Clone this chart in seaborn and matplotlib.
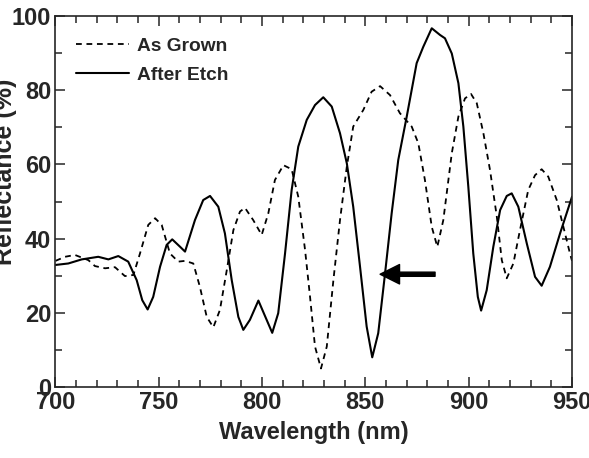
import numpy as np
import pandas as pd
import matplotlib
matplotlib.use("Agg")
import matplotlib.pyplot as plt
import seaborn as sns
from matplotlib.ticker import MultipleLocator

# As Grown (dashed)
grown_wl = [700, 704.6, 709.4, 715.9, 719.1, 724, 728.8, 733.6, 737.7, 740.9, 744.9,
            748.2, 751.4, 755.4, 759.4, 762.7, 766.7, 769.9, 773.2, 776.4, 779.6,
            782.9, 786.1, 789.3, 791.7, 795.7, 799.8, 803, 806.2, 810.3, 814.3,
            817.5, 820.8, 823.2, 825.6, 828.5, 831.3, 834.5, 837.7, 841, 844.1,
            849, 853, 857.1, 861.9, 866.7, 872.4, 875.6, 878.8, 882.1, 884.8,
            887.7, 891.8, 895, 898.2, 901.1, 903.9, 907.1, 910.3, 913.6, 916,
            918.4, 921.6, 924.8, 928.8, 932.1, 935.3, 938.5, 942.6, 945.8, 949, 950]
grown_r = [34.0, 35.1, 35.6, 34.2, 32.6, 32.0, 32.3, 29.9, 30.2, 36.0, 43.7,
           45.5, 43.7, 36.0, 33.8, 34.0, 33.3, 27.0, 18.9, 16.1, 20.8,
           31.5, 42.3, 47.3, 48.3, 45.0, 41.0, 46.8, 55.8, 59.8, 58.7,
           51.3, 36.9, 24.3, 10.9, 5.0, 10.9, 28.8, 45.0, 59.4, 70.2,
           74.7, 79.6, 81.1, 78.7, 73.8, 70.2, 65.7, 55.8, 43.2, 37.8,
           45.0, 63.0, 72.9, 77.8, 79.0, 76.5, 68.4, 58.5, 45.9, 34.2,
           29.3, 33.3, 42.3, 53.1, 57.1, 58.7, 56.7, 50.4, 43.2, 36.0, 34.0]

# After Etch (solid)
etch_wl = [700, 706.2, 712.7, 720.7, 725.6, 730.4, 735.2, 739.3, 742, 744.6, 747.3,
           750.6, 753.8, 756.5, 760.3, 762.7, 767.5, 771.5, 774.8, 778.8, 782,
           785.3, 788.5, 790.9, 794.1, 798.2, 802.2, 804.9, 807.8, 811.1, 814.3,
           817.5, 821.6, 825.6, 829.6, 833.7, 837.7, 841, 844.1, 847.4, 850.6,
           853.3, 856.2, 859.5, 862.7, 865.9, 870, 874.8, 878, 882.1, 886.1,
           888.5, 891.8, 895, 897.4, 899.8, 902.2, 904.4, 906, 908.7, 911.9,
           915.2, 918.4, 920.8, 924, 928.1, 932.1, 935.3, 939.3, 944.2, 950]
etch_r = [32.9, 33.3, 34.4, 35.1, 34.4, 35.3, 33.8, 28.8, 23.4, 20.9, 24.3,
          32.4, 38.3, 39.8, 37.8, 36.5, 45.0, 50.4, 51.5, 48.6, 41.4,
          28.8, 18.9, 15.4, 18.1, 23.3, 18.1, 14.6, 19.9, 36.0, 53.1,
          64.8, 72.0, 76.0, 78.1, 75.6, 68.4, 60.3, 48.6, 32.4, 16.3,
          8.0, 14.5, 30.6, 46.8, 61.2, 72.9, 87.3, 91.7, 96.7, 94.9,
          94.0, 89.9, 81.9, 70.2, 54.0, 36.0, 24.3, 20.6, 26.1, 37.8,
          47.7, 51.5, 52.2, 48.6, 38.7, 29.7, 27.3, 32.4, 41.4, 51.3]

arrow_tip = (857.1, 30.4)
arrow_tail = (883.7, 30.4)

sns.set_style("ticks")
plt.rcParams['font.family'] = ['Liberation Sans', 'DejaVu Sans']
plt.rcParams['font.weight'] = 'bold'
plt.rcParams['axes.labelweight'] = 'bold'

fig = plt.figure(figsize=(5.89, 4.58), dpi=100)
ax = fig.add_axes([0.0942, 0.155, 0.877, 0.81])

df_grown = pd.DataFrame({"wl": grown_wl, "r": grown_r})
df_etch = pd.DataFrame({"wl": etch_wl, "r": etch_r})

sns.lineplot(data=df_grown, x="wl", y="r", ax=ax, color="black", lw=1.3,
             linestyle=(0, (3.2, 2.6)), label="As Grown", sort=False)
sns.lineplot(data=df_etch, x="wl", y="r", ax=ax, color="black", lw=1.5,
             label="After Etch", sort=False)

# arrow pointing at the etched dip
ax.annotate("", xy=arrow_tip, xytext=arrow_tail,
            arrowprops=dict(facecolor="black", edgecolor="black", width=3,
                            headwidth=14, headlength=14, shrink=0))

ax.set_xlim(700, 950)
ax.set_ylim(0, 100)
ax.xaxis.set_major_locator(MultipleLocator(50))
ax.xaxis.set_minor_locator(MultipleLocator(10))
ax.yaxis.set_major_locator(MultipleLocator(20))
ax.yaxis.set_minor_locator(MultipleLocator(10))
ax.tick_params(which="both", direction="in", top=True, right=True,
               labelsize=17, width=1.1)
ax.tick_params(which="major", length=7, pad=3)
ax.tick_params(which="minor", length=5)
for s in ax.spines.values():
    s.set_linewidth(1.2)

ax.set_xlabel("Wavelength (nm)", fontsize=17, labelpad=5)
ax.set_ylabel("Reflectance (%)", fontsize=18)
ax.yaxis.set_label_coords(-0.075, 0.58)

ax.legend(loc="upper left", bbox_to_anchor=(0.04, 0.942), frameon=False,
          fontsize=13.8, handlelength=2.75, handletextpad=0.4,
          labelspacing=0.6, borderpad=0, borderaxespad=0)

fig.savefig("out.png", dpi=100)
